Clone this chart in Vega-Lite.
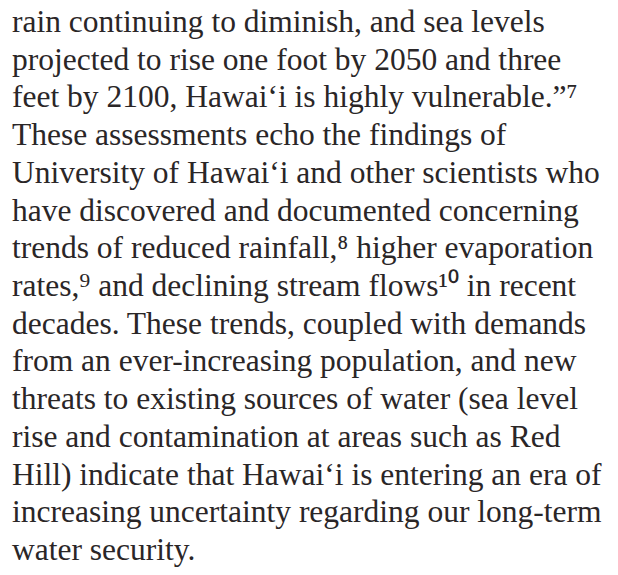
{
  "$schema": "https://vega.github.io/schema/vega-lite/v6.json",
  "width": 618,
  "height": 575,
  "autosize": {"type": "fit", "contains": "padding"},
  "padding": 0,
  "background": "#ffffff",
  "config": {"view": {"stroke": null}},
  "data": {
    "values": [
      {"line": 1, "text": "rain continuing to diminish, and sea levels"},
      {"line": 2, "text": "projected to rise one foot by 2050 and three"},
      {"line": 3, "text": "feet by 2100, Hawai‘i is highly vulnerable.”⁷"},
      {"line": 4, "text": "These assessments echo the findings of"},
      {"line": 5, "text": "University of Hawai‘i and other scientists who"},
      {"line": 6, "text": "have discovered and documented concerning"},
      {"line": 7, "text": "trends of reduced rainfall,⁸ higher evaporation"},
      {"line": 8, "text": "rates,⁹ and declining stream flows¹⁰ in recent"},
      {"line": 9, "text": "decades. These trends, coupled with demands"},
      {"line": 10, "text": "from an ever-increasing population, and new"},
      {"line": 11, "text": "threats to existing sources of water (sea level"},
      {"line": 12, "text": "rise and contamination at areas such as Red"},
      {"line": 13, "text": "Hill) indicate that Hawai‘i is entering an era of"},
      {"line": 14, "text": "increasing uncertainty regarding our long-term"},
      {"line": 15, "text": "water security."}
    ]
  },
  "mark": {
    "type": "text",
    "align": "left",
    "baseline": "alphabetic",
    "font": "Liberation Serif",
    "fontSize": 31.5,
    "color": "#2a2627",
    "dx": 12
  },
  "encoding": {
    "x": {"datum": 0, "type": "quantitative", "scale": {"domain": [0, 1]}, "axis": null},
    "y": {"field": "line", "type": "quantitative", "scale": {"domain": [0.1514, 15.399], "reverse": true, "zero": false, "nice": false}, "axis": null},
    "text": {"field": "text"}
  }
}
